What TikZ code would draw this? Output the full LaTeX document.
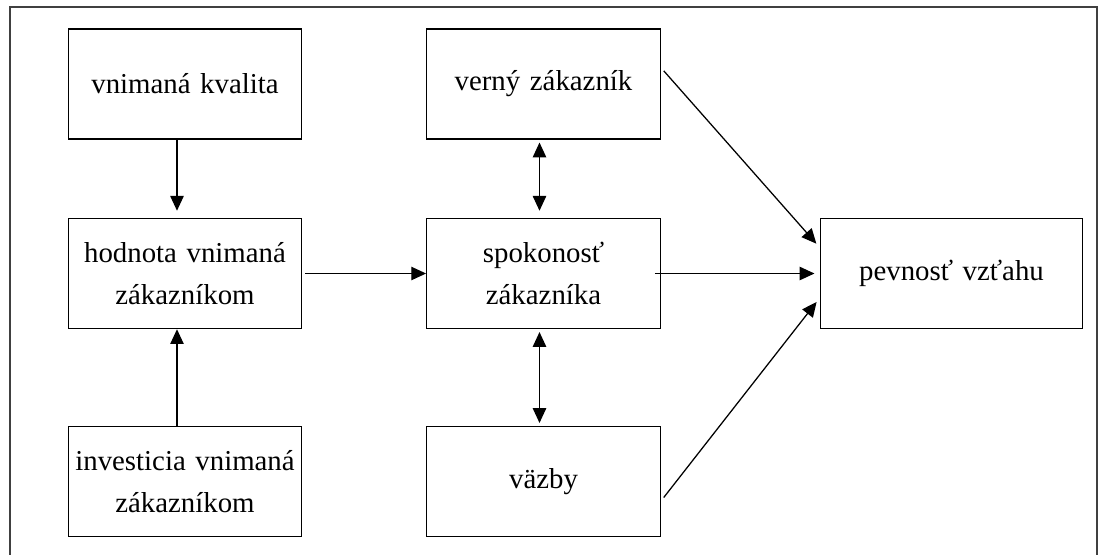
\documentclass[tikz,border=0pt]{standalone}
\usepackage{fontspec}
\setmainfont{Liberation Serif}
\usepackage{tikz}
\usetikzlibrary{arrows.meta,positioning}

\begin{document}
\begin{tikzpicture}[
    x=0.025cm, y=-0.025cm,
    box/.style={rectangle, draw, line width=1pt, minimum width=5.75cm, minimum height=2.75cm, text width=5.6cm, align=center, font=\fontsize{20.5}{30}\selectfont},
    arrow/.style={-{Triangle[length=10.5pt, width=9.5pt]}, line width=0.9pt},
    dblarrow/.style={{Triangle[length=10.5pt, width=9.5pt]}-{Triangle[length=10.5pt, width=9.5pt]}, line width=0.9pt}
]
    \useasboundingbox (0,0) rectangle (1100,554);

    % Frame
    \draw[black!75, line width=1.4pt] (10,7) rectangle (1097,600);

    % Left column
    \node[box] (kvalita) at (185,84) {vnimaná kvalita};
    \node[box] (hodnota) at (185,273.5) {hodnota vnimaná\\zákazníkom};
    \node[box] (investicia) at (185,481.5) {investicia vnimaná\\zákazníkom};

    % Middle column
    \node[box] (verny) at (543.5,84) {verný zákazník};
    \node[box] (spokojnost) at (543.5,273.5) {spokonosť\\zákazníka};
    \node[box] (vazby) at (543.5,481.5) {väzby};

    % Right
    \node[box, minimum width=6.475cm, text width=6.3cm] (pevnost) at (951.5,273.5) {pevnosť vzťahu};

    % Connections
    \draw[arrow, shorten >=5pt] ([xshift=-0.2cm]kvalita.south) -- ([xshift=-0.2cm]hodnota.north);
    \draw[arrow] ([xshift=-0.2cm]investicia.north) -- ([xshift=-0.2cm]hodnota.south);
    \draw[arrow] ([xshift=0.07cm]hodnota.east) -- (spokojnost.west);

    \draw[dblarrow, shorten <=2pt, shorten >=5pt] ([xshift=-0.1cm]verny.south) -- ([xshift=-0.1cm]spokojnost.north);
    \draw[dblarrow, shorten <=2pt, shorten >=2pt] ([xshift=-0.1cm]spokojnost.south) -- ([xshift=-0.1cm]vazby.north);

    \draw[arrow, shorten >=4pt] ([yshift=0.33cm, xshift=0.07cm]verny.east) -- ([yshift=0.64cm]pevnost.west);
    \draw[arrow, shorten >=4pt] ([xshift=-0.15cm]spokojnost.east) -- (pevnost.west);
    \draw[arrow, shorten >=4pt] ([yshift=-0.4cm, xshift=0.07cm]vazby.east) -- ([yshift=-0.6cm]pevnost.west);

\end{tikzpicture}
\end{document}
